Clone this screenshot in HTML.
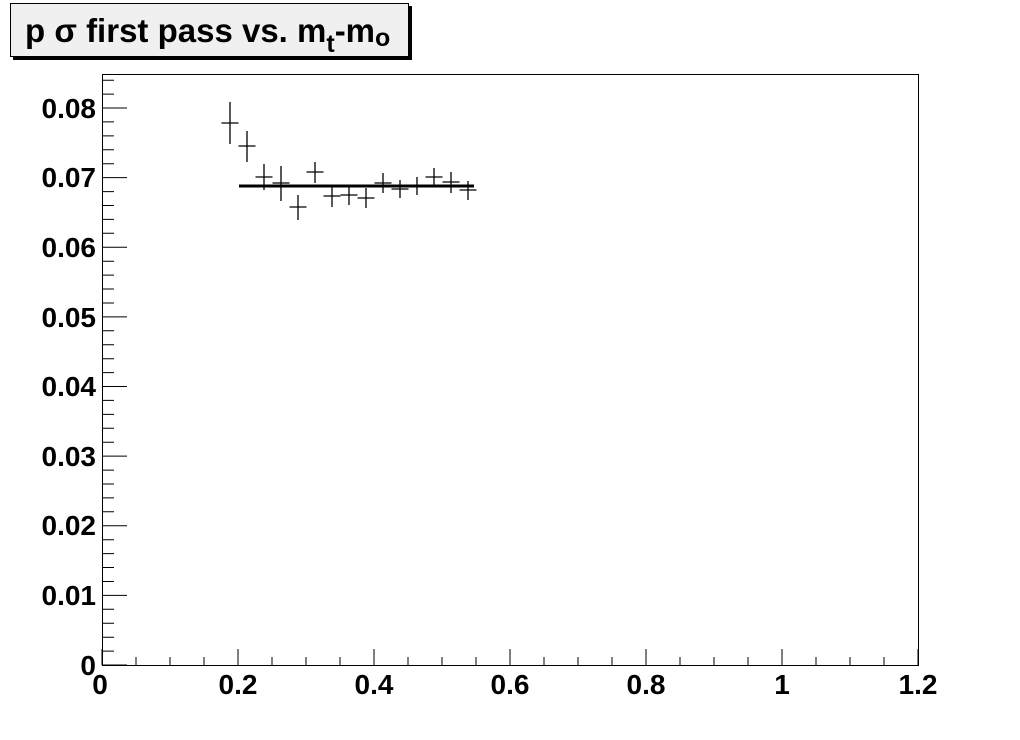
<!DOCTYPE html>
<html><head><style>
body{margin:0;background:#fff}
text{font-family:"Liberation Sans",sans-serif;font-weight:bold}
.t{font-size:33px}
.s{font-size:25px}
.l{font-size:28px}
</style></head><body>
<svg width="1020" height="740" xmlns="http://www.w3.org/2000/svg" style="display:block">
<rect width="1020" height="740" fill="#fff"/>
<rect x="13" y="6" width="399" height="54" fill="#000"/>
<rect x="10.5" y="3.5" width="398" height="53" fill="#f0f0f0" stroke="#000" stroke-width="1"/>
<text x="25" y="42" class="t" font-size="33">p σ first pass vs. m<tspan dy="10" class="s" font-size="25">t</tspan><tspan dy="-10">-m</tspan><tspan dy="4" class="s" font-size="25">o</tspan></text>
<rect x="102.5" y="74.5" width="816" height="591" fill="none" stroke="#000"/>
<path stroke="#000" stroke-width="1" fill="none" d="
M102,665V649 M136,665V657 M170,665V657 M204,665V657 M238,665V649 M272,665V657 M306,665V657 M340,665V657 M374,665V649 M408,665V657 M442,665V657 M476,665V657 M510,665V649 M544,665V657 M578,665V657 M612,665V657 M646,665V649 M680,665V657 M714,665V657 M748,665V657 M782,665V649 M816,665V657 M850,665V657 M884,665V657 M918,665V649
M102,665H127 M102,651.1H114 M102,637.2H114 M102,623.2H114 M102,609.3H114 M102,595.4H127 M102,581.5H114 M102,567.5H114 M102,553.6H114 M102,539.7H114 M102,525.8H127 M102,511.8H114 M102,497.9H114 M102,484H114 M102,470.1H114 M102,456.1H127 M102,442.2H114 M102,428.3H114 M102,414.4H114 M102,400.4H114 M102,386.5H127 M102,372.6H114 M102,358.7H114 M102,344.7H114 M102,330.8H114 M102,316.9H127 M102,303H114 M102,289H114 M102,275.1H114 M102,261.2H114 M102,247.3H127 M102,233.3H114 M102,219.4H114 M102,205.5H114 M102,191.6H114 M102,177.6H127 M102,163.7H114 M102,149.8H114 M102,135.9H114 M102,121.9H114 M102,108H127 M102,94.1H114 M102,80.2H114"/>
<g class="l" font-size="28" text-anchor="middle">
<text class="l" x="100" y="694">0</text><text class="l" x="238" y="694">0.2</text><text class="l" x="374" y="694">0.4</text><text class="l" x="510" y="694">0.6</text><text class="l" x="646" y="694">0.8</text><text class="l" x="782" y="694">1</text><text class="l" x="918" y="694">1.2</text>
</g>
<g class="l" font-size="28" text-anchor="end">
<text class="l" x="96" y="675">0</text><text class="l" x="96" y="605">0.01</text><text class="l" x="96" y="535">0.02</text><text class="l" x="96" y="466">0.03</text><text class="l" x="96" y="396">0.04</text><text class="l" x="96" y="327">0.05</text><text class="l" x="96" y="257">0.06</text><text class="l" x="96" y="187">0.07</text><text class="l" x="96" y="118">0.08</text>
</g>
<path stroke="#000" stroke-width="1.3" fill="none" d="
M221.5,123H238.5 M230,102V144
M238.5,146H255.5 M247,131V162
M255.5,177H272.5 M264,164V190
M272.5,183H289.5 M281,166V201
M289.5,207H306.5 M298,195V220
M306.5,172H323.5 M315,162V183
M323.5,196H340.5 M332,185V207
M340.5,195H357.5 M349,185V205
M357.5,198H374.5 M366,188V208
M374.5,183H391.5 M383,173V193
M391.5,189H408.5 M400,180V198
M408.5,186H425.5 M417,177V195
M425.5,177H442.5 M434,168V186
M442.5,182H459.5 M451,172V193
M459.5,190H476.5 M468,181V200"/>
<line x1="239" y1="186" x2="474" y2="186" stroke="#000" stroke-width="3"/>
</svg>
</body></html>
